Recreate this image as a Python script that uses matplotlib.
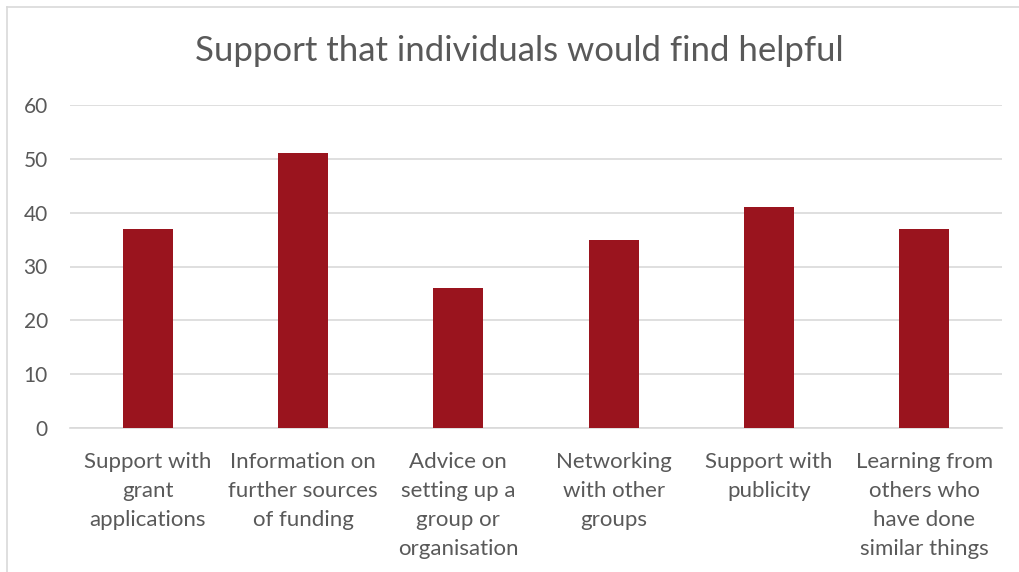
import matplotlib.pyplot as plt
from matplotlib.lines import Line2D
import numpy as np

# survey answers: how many people picked each kind of support
categories = [
    'Support with\ngrant\napplications',
    'Information on\nfurther sources\nof funding',
    'Advice on\nsetting up a\ngroup or\norganisation',
    'Networking\nwith other\ngroups',
    'Support with\npublicity',
    'Learning from\nothers who\nhave done\nsimilar things',
]
counts = [37, 51, 26, 35, 41, 37]
y_ticks = [0, 10, 20, 30, 40, 50, 60]

plt.rcParams['font.family'] = ['Lato', 'DejaVu Sans']

fig = plt.figure(figsize=(10.2, 5.72), dpi=100)
ax = fig.add_axes([70 / 1020, 1 - 428 / 572, 932 / 1020, 323 / 572])

x = np.arange(len(categories))
ax.bar(x, counts, width=0.32, color='#9A141E', zorder=3)

ax.set_xlim(-0.5, len(categories) - 0.5)
ax.set_ylim(0, 60)
ax.set_yticks(y_ticks)
ax.set_xticks(x)
ax.set_xticklabels(categories, fontsize=16, color='#595959', linespacing=1.58)
ax.tick_params(axis='y', labelsize=15, labelcolor='#595959', length=0, pad=16)
ax.tick_params(axis='x', length=0, pad=17)

ax.grid(axis='y', color='#D9D9D9', linewidth=1.2, zorder=0)
for side in ['top', 'right', 'left']:
    ax.spines[side].set_visible(False)
ax.spines['bottom'].set_color('#D9D9D9')
ax.spines['bottom'].set_linewidth(1.2)

fig.text(519 / 1020, 1 - 51 / 572, 'Support that individuals would find helpful',
         ha='center', va='center', fontsize=25, color='#595959')

# thin frame round the chart area
fig.add_artist(Line2D([7 / 1020, 7 / 1020], [0, 1 - 7 / 572],
                      transform=fig.transFigure, color='#D9D9D9', lw=1.2))
fig.add_artist(Line2D([7 / 1020, 1], [1 - 7 / 572, 1 - 7 / 572],
                      transform=fig.transFigure, color='#D9D9D9', lw=1.2))

fig.savefig('out.png', dpi=100)
